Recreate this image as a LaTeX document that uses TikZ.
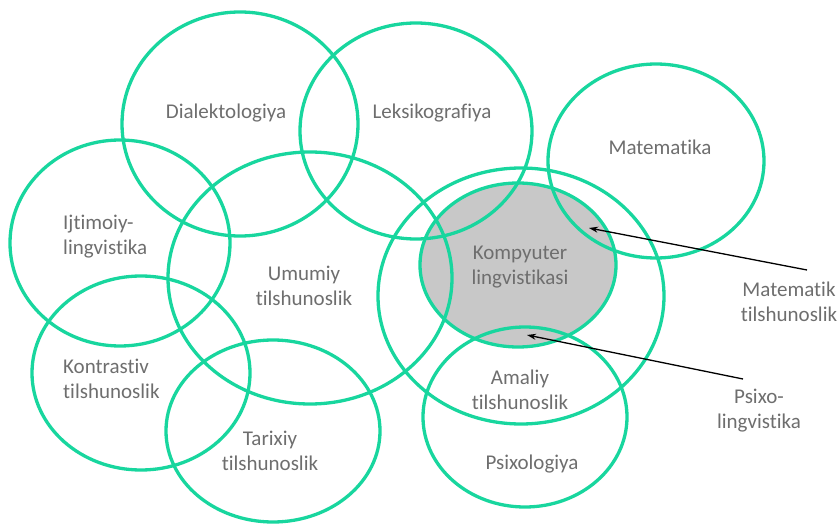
\documentclass[tikz,border=0pt]{standalone}
\usepackage{fontspec}
\setmainfont[Ligatures={NoCommon}]{Carlito}
\usetikzlibrary{shapes.geometric,arrows.meta}
\definecolor{ringc}{RGB}{24,214,158}
\definecolor{txtc}{RGB}{110,110,110}
\definecolor{fillc}{RGB}{200,200,200}
\begin{document}
\begin{tikzpicture}[x=1pt,y=-1pt,
  ring/.style={ellipse,draw=ringc,line width=3.3pt,inner sep=0pt},
  lbl/.style={text=txtc,font=\fontsize{21}{25}\selectfont,align=center,inner sep=0pt},
  lbll/.style={lbl,align=left,anchor=west},
  arr/.style={draw=black,line width=1.3pt,-{Stealth[length=9pt,width=6pt]}}]
\useasboundingbox (0,0) rectangle (839,524);
% grey filled ellipse first
\node[ellipse,fill=fillc,inner sep=0pt,minimum width=196pt,minimum height=164pt] (kompfill) at (518,265) {};
% rings
\node[ring,minimum width=236pt,minimum height=224pt] (dia) at (240,124) {};
\node[ring,minimum width=232pt,minimum height=216pt] (lek) at (416,131) {};
\node[ring,minimum width=216pt,minimum height=194pt] (mat) at (656,161) {};
\node[ring,minimum width=220pt,minimum height=206pt] (ijt) at (120,243) {};
\node[ring,minimum width=284pt,minimum height=252pt] (umu) at (310,278) {};
\node[ring,minimum width=286pt,minimum height=256pt] (ama) at (521,296) {};
\node[ring,minimum width=196pt,minimum height=164pt] (komp) at (518,265) {};
\node[ring,minimum width=218pt,minimum height=194pt] (kon) at (141,373) {};
\node[ring,minimum width=214pt,minimum height=182pt] (tar) at (273,431) {};
\node[ring,minimum width=204pt,minimum height=180pt] (psi) at (525,417) {};
% labels
\node[lbl] (tdia) at (226,113) {Dialektologiya};
\node[lbl] (tlek) at (432,113) {Leksikografiya};
\node[lbl] (tmat) at (660,147) {Matematika};
\node[lbll] (tijt) at (63,237) {Ijtimoiy-\\lingvistika};
\node[lbl] (tumu) at (304,286) {Umumiy\\tilshunoslik};
\node[lbl] (tkomp) at (520,267) {Kompyuter\\lingvistikasi};
\node[lbl] (tama) at (520,390) {Amaliy\\tilshunoslik};
\node[lbl] (tpsi) at (532,464) {Psixologiya};
\node[lbll] (tkon) at (63,379) {Kontrastiv\\tilshunoslik};
\node[lbl] (ttar) at (270,451) {Tarixiy\\tilshunoslik};
\node[lbl] (tmtl) at (789,302) {Matematik\\tilshunoslik};
\node[lbl] (tpl) at (759,411) {Psixo-\\lingvistika};
% arrows
\coordinate (a1s) at (807,270);
\coordinate (a1e) at (589,228);
\coordinate (a2s) at (743,379);
\coordinate (a2e) at (527,335);
\draw[arr] (a1s) -- (a1e);
\draw[arr] (a2s) -- (a2e);
\end{tikzpicture}
\end{document}
